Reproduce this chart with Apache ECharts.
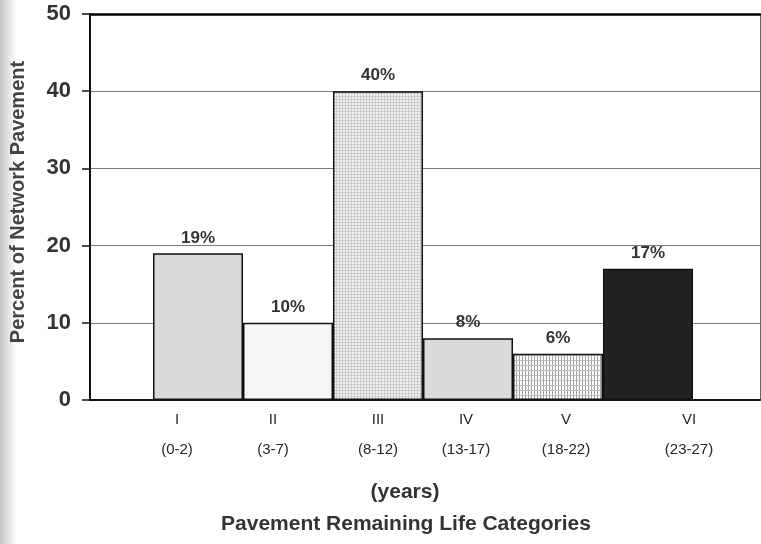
<!DOCTYPE html>
<html><head><meta charset="utf-8">
<script src="https://cdn.jsdelivr.net/npm/echarts@6/dist/echarts.min.js"></script>
<style>html,body{margin:0;padding:0;background:#fff}#c{width:761px;height:544px}</style>
</head><body><div id="c"></div>
<script>
const categories = ['I', 'II', 'III', 'IV', 'V', 'VI'];
const yearRanges = ['(0-2)', '(3-7)', '(8-12)', '(13-17)', '(18-22)', '(23-27)'];
const percentValues = [19, 10, 40, 8, 6, 17];
const yAxisMin = 0, yAxisMax = 50, yAxisStep = 10;

const FONT = '"Liberation Sans", Arial, Helvetica, sans-serif';

function makePattern(w, h, bg, vColor, hColor) {
  const c = document.createElement('canvas');
  c.width = w; c.height = h;
  const ctx = c.getContext('2d');
  ctx.fillStyle = bg; ctx.fillRect(0, 0, w, h);
  if (vColor) { ctx.fillStyle = vColor; ctx.fillRect(0, 0, 1, h); }
  if (hColor) { ctx.fillStyle = hColor; ctx.fillRect(0, 0, w, 1); }
  return { image: c, repeat: 'repeat' };
}
const fills = [
  '#d9d9d9',
  '#f6f6f6',
  makePattern(3, 3, '#f3f3f3', '#cacaca', '#cacaca'),
  '#dadada',
  makePattern(3, 5, '#fcfcfc', '#a0a0a0', '#bdbdbd'),
  '#222222'
];
// label horizontal nudges (px) as seen in the reference
const labelShift = [-21, -15, 0, -2, 8, 41];
const rich = {};
labelShift.forEach((s, i) => {
  rich['s' + i] = {
    fontSize: 15, color: '#262626', fontFamily: FONT, lineHeight: 30,
    padding: s >= 0 ? [0, 0, 0, 2 * s] : [0, -2 * s, 0, 0]
  };
});

const chart = echarts.init(document.getElementById('c'));
chart.setOption({
  backgroundColor: '#fff',
  animation: false,
  graphic: [{
    type: 'rect', left: 0, top: 0, z: -10,
    shape: { width: 16, height: 544 },
    style: { fill: new echarts.graphic.LinearGradient(0, 0, 1, 0, [
      { offset: 0, color: '#c4c4c4' }, { offset: 1, color: '#ffffff' }]) }
  }],
  title: [
    { text: '(years)', left: 405, top: 482, textAlign: 'center', padding: 0,
      textStyle: { fontSize: 21, fontWeight: 'bold', color: '#333', fontFamily: FONT } },
    { text: 'Pavement Remaining Life Categories', left: 406, top: 514, textAlign: 'center', padding: 0,
      textStyle: { fontSize: 21, fontWeight: 'bold', color: '#333', fontFamily: FONT } }
  ],
  grid: [
    { left: 86, right: 1, top: 14, bottom: 144 },
    { left: 153, right: 68, top: 14, bottom: 144 }
  ],
  xAxis: [
    { gridIndex: 0, type: 'value', min: 0, max: 1, position: 'bottom', z: 5,
      axisLine: { show: true, onZero: false, lineStyle: { color: '#111', width: 2 } },
      axisTick: { show: false }, axisLabel: { show: false }, splitLine: { show: false } },
    { gridIndex: 0, type: 'value', min: 0, max: 1, position: 'top', z: 5,
      axisLine: { show: true, onZero: false, lineStyle: { color: '#000', width: 2.5 } },
      axisTick: { show: false }, axisLabel: { show: false }, splitLine: { show: false } },
    { gridIndex: 1, type: 'category', data: categories,
      axisLine: { show: false }, axisTick: { show: false },
      axisLabel: {
        interval: 0, margin: 5,
        formatter: (val, idx) => `{s${idx}|${val}}\n{s${idx}|${yearRanges[idx]}}`,
        rich: rich
      } }
  ],
  yAxis: [
    { gridIndex: 0, type: 'value', min: yAxisMin, max: yAxisMax, interval: yAxisStep,
      name: 'Percent of Network Pavement', nameLocation: 'middle', nameGap: 62,
      nameTextStyle: { fontSize: 20, fontWeight: 'bold', color: '#444', fontFamily: FONT,
        padding: [0, 0, 0, 10] },
      axisLine: { show: true, onZero: false, lineStyle: { color: '#111', width: 2 } },
      axisTick: { show: true, length: 8, lineStyle: { color: '#111', width: 1.5 } },
      axisLabel: { fontSize: 22, fontWeight: 'bold', color: '#333', margin: 19, fontFamily: FONT },
      splitLine: { show: true, showMaxLine: false, showMinLine: false,
        lineStyle: { color: '#7a7a7a', width: 1 } } },
    { gridIndex: 0, type: 'value', min: yAxisMin, max: yAxisMax, position: 'right',
      axisLine: { show: true, onZero: false, lineStyle: { color: '#666', width: 1 } },
      axisTick: { show: false }, axisLabel: { show: false }, splitLine: { show: false } },
    { gridIndex: 1, type: 'value', min: yAxisMin, max: yAxisMax, show: false,
      splitLine: { show: false } }
  ],
  series: [{
    type: 'bar', xAxisIndex: 2, yAxisIndex: 2,
    barCategoryGap: '0%',
    data: percentValues.map((v, i) => ({ value: v, itemStyle: { color: fills[i] } })),
    itemStyle: { borderColor: '#111', borderWidth: 1.5 },
    label: { show: true, position: 'top', distance: 7, formatter: '{c}%',
      fontSize: 17, fontWeight: 'bold', color: '#333', fontFamily: FONT }
  }]
});
</script>
</body></html>
